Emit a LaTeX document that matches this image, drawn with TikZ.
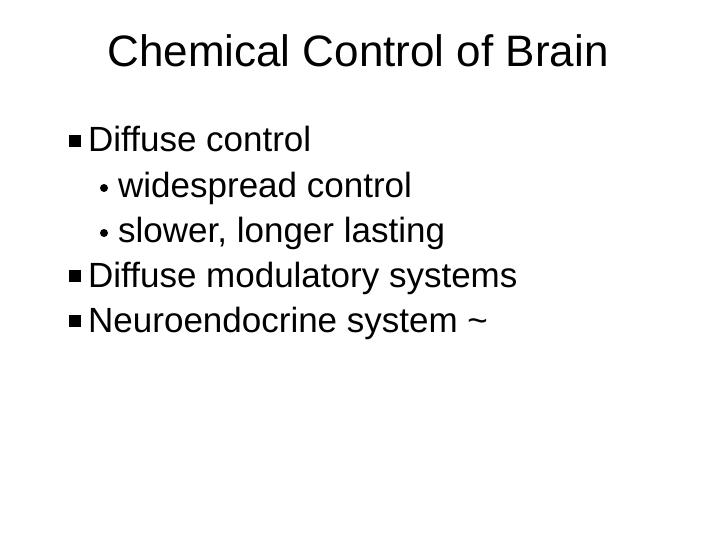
\documentclass[tikz,border=0pt]{standalone}
\usepackage{fontspec}
\setmainfont{Liberation Sans}
\begin{document}
\begin{tikzpicture}[x=1pt,y=-1pt,
  txt/.style={anchor=base west,inner sep=0pt,font=\fontsize{35}{40}\selectfont},
  sq/.style={fill=black,minimum size=12pt,inner sep=0pt},
  dot/.style={circle,fill=black,minimum size=8pt,inner sep=0pt}]
\useasboundingbox (0,0) rectangle (720,540);
\node[anchor=base,inner sep=0pt,font=\fontsize{44}{50}\selectfont] (title) at (358,67) {Chemical Control of Brain};
\node[sq] (b1) at (75,141) {};
\node[txt] (t1) at (88,152) {Diffuse control};
\node[dot] (d1) at (104,188) {};
\node[txt] (t2) at (118,197) {widespread control};
\node[dot] (d2) at (104,233) {};
\node[txt] (t3) at (118,242) {slower, longer lasting};
\node[sq] (b2) at (75,276) {};
\node[txt] (t4) at (88,287) {Diffuse modulatory systems};
\node[sq] (b3) at (75,321) {};
\node[txt] (t5) at (88,332) {Neuroendocrine system \textasciitilde};
\end{tikzpicture}
\end{document}
